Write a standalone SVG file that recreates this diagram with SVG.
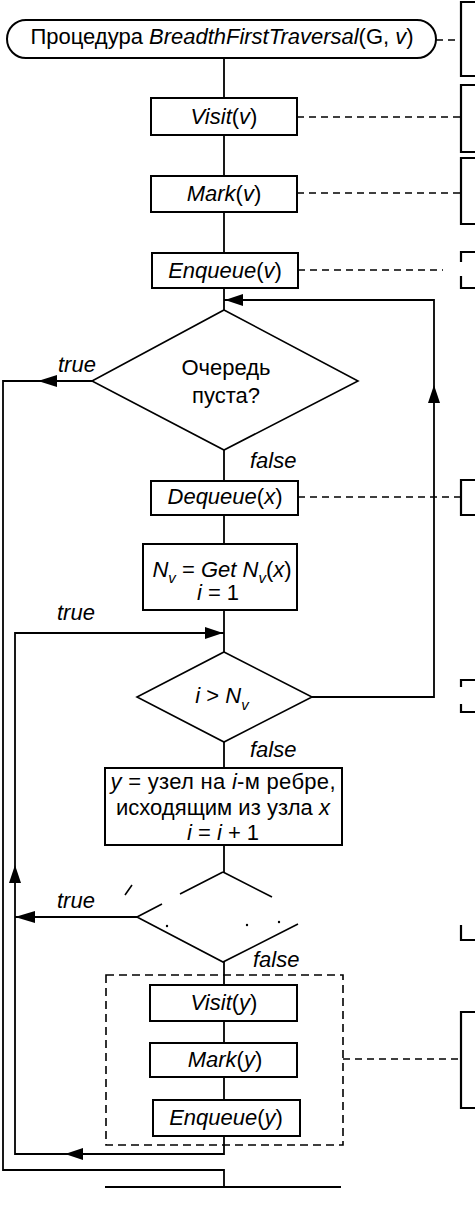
<svg xmlns="http://www.w3.org/2000/svg" width="475" height="1211" viewBox="0 0 475 1211">
<style>
.box{fill:#fff;stroke:#000;stroke-width:2}
.ln{fill:none;stroke:#000;stroke-width:1.8}
.dash{fill:none;stroke:#000;stroke-width:1.6;stroke-dasharray:7 5}
.br{fill:none;stroke:#000;stroke-width:2.2}
.ah{fill:#000;stroke:none}
text{font-family:"Liberation Sans",Arial,sans-serif;font-size:22px;fill:#000}
.it{font-style:italic}
.c{text-anchor:middle}
.sub{font-size:15px}
</style>
<rect width="475" height="1211" fill="#fff"/>
<g id="connectors">
  <path class="ln" d="M224 58V98M224 135V176M224 212V253M224 288V310M224 450V481M224 515V544M224 610V652M224 742V768M224 845V872M224 962V985M224 1021V1043M224 1077V1100"/>
  <path class="ln" d="M224 1136V1154H15V633H224"/>
  <path class="ln" d="M92 381H3V1170H224V1187"/>
  <path class="ln" d="M312 697H434V300H224"/>
  <path class="ln" d="M137 917H15"/>
  <path class="ln" d="M105 1187H341" style="stroke-width:2.2"/>
  <polygon class="ah" points="38,381 57,375 57,387"/>
  <polygon class="ah" points="225,300 243,294 243,306"/>
  <polygon class="ah" points="434,385 428,403 440,403"/>
  <polygon class="ah" points="223,633 205,627 205,639"/>
  <polygon class="ah" points="15,917 35,911 35,923"/>
  <polygon class="ah" points="15,865 9,883 21,883"/>
  <polygon class="ah" points="65,1154 83,1148 83,1160"/>
  <path class="dash" d="M436 40H461"/>
  <path class="dash" d="M297 117H461"/>
  <path class="dash" d="M297 193H461"/>
  <path class="dash" d="M298 270H443"/>
  <path class="dash" d="M298 497H461"/>
  <path class="dash" d="M343 1059H461"/>
  <path class="br" d="M475 2H461V76H475"/>
  <path class="br" d="M475 85H461V152H475"/>
  <path class="br" d="M475 158H461V224H475"/>
  <path class="br" d="M475 252H461V262M461 276V288H475"/>
  <path class="br" d="M475 480H461V515H475"/>
  <path class="br" d="M475 680H461V687M461 704V712H475"/>
  <path class="br" d="M461 925V940H475"/>
  <path class="br" d="M475 1012H461V1108H475"/>
</g>
<g id="start">
  <rect class="box" x="7" y="20" width="429" height="38" rx="19"/>
  <text x="222" y="44" class="c" textLength="383">Процедура <tspan class="it">BreadthFirstTraversal</tspan>(G, <tspan class="it">v</tspan>)</text>
</g>
<g id="visit-v">
  <rect class="box" x="151" y="98" width="146" height="37"/>
  <text x="224" y="124" class="c"><tspan class="it">Visit</tspan>(<tspan class="it">v</tspan>)</text>
</g>
<g id="mark-v">
  <rect class="box" x="151" y="176" width="146" height="36"/>
  <text x="224" y="201" class="c"><tspan class="it">Mark</tspan>(<tspan class="it">v</tspan>)</text>
</g>
<g id="enqueue-v">
  <rect class="box" x="152" y="253" width="146" height="35"/>
  <text x="225" y="278" class="c"><tspan class="it">Enqueue</tspan>(<tspan class="it">v</tspan>)</text>
</g>
<g id="queue-empty">
  <polygon class="box" style="stroke-width:1.6" points="224,310 358,381 224,450 92,381"/>
  <text x="226" y="375" class="c">Очередь</text>
  <text x="226" y="403" class="c">пуста?</text>
  <text x="58" y="372" class="it">true</text>
  <text x="250" y="468" class="it">false</text>
</g>
<g id="dequeue">
  <rect class="box" x="151" y="481" width="147" height="34"/>
  <text x="225" y="504" class="c"><tspan class="it">Dequeue</tspan>(<tspan class="it">x</tspan>)</text>
</g>
<g id="get-nv">
  <rect class="box" x="143" y="544" width="154" height="66"/>
  <text x="222" y="577" class="c"><tspan class="it">N</tspan><tspan class="it sub" dy="6">v</tspan><tspan dy="-6"> = </tspan><tspan class="it">Get N</tspan><tspan class="it sub" dy="6">v</tspan><tspan dy="-6">(</tspan><tspan class="it">x</tspan>)</text>
  <text x="218" y="600" class="c"><tspan class="it">i</tspan> = 1</text>
  <text x="57" y="620" class="it">true</text>
</g>
<g id="i-gt-nv">
  <polygon class="box" style="stroke-width:1.6" points="224,652 312,697 224,742 137,697"/>
  <text x="222" y="703" class="c"><tspan class="it">i</tspan> &gt; <tspan class="it">N</tspan><tspan class="it sub" dy="7">v</tspan></text>
  <text x="250" y="757" class="it">false</text>
</g>
<g id="next-edge">
  <rect class="box" x="105" y="768" width="237" height="77"/>
  <text x="223" y="789" class="c" textLength="225"><tspan class="it">y</tspan> = узел на <tspan class="it">i</tspan>-м ребре,</text>
  <text x="223" y="815" class="c" textLength="214">исходящим из узла <tspan class="it">x</tspan></text>
  <text x="223" y="840" class="c"><tspan class="it">i</tspan> = <tspan class="it">i</tspan> + 1</text>
</g>
<g id="visited-check">
  <path class="ln" style="stroke-width:1.6" d="M223 872L180 894M223 872L272 897M137 917L162 904M137 917L223 962L298 924M125 895L132 885"/>
  <circle cx="167" cy="926" r="1.2"/>
  <circle cx="247" cy="925" r="1.2"/>
  <circle cx="279" cy="922" r="1.2"/>
  <text x="57" y="908" class="it">true</text>
  <text x="253" y="967" class="it">false</text>
</g>
<g id="process-y">
  <rect x="106" y="975" width="237" height="170" fill="none" stroke="#000" stroke-width="1.6" stroke-dasharray="8 5"/>
</g>
<g id="visit-y">
  <rect class="box" x="150" y="985" width="147" height="36"/>
  <text x="224" y="1010" class="c"><tspan class="it">Visit</tspan>(<tspan class="it">y</tspan>)</text>
</g>
<g id="mark-y">
  <rect class="box" x="150" y="1043" width="147" height="34"/>
  <text x="225" y="1067" class="c"><tspan class="it">Mark</tspan>(<tspan class="it">y</tspan>)</text>
</g>
<g id="enqueue-y">
  <rect class="box" x="153" y="1100" width="147" height="36"/>
  <text x="226" y="1125" class="c"><tspan class="it">Enqueue</tspan>(<tspan class="it">y</tspan>)</text>
</g>
</svg>
